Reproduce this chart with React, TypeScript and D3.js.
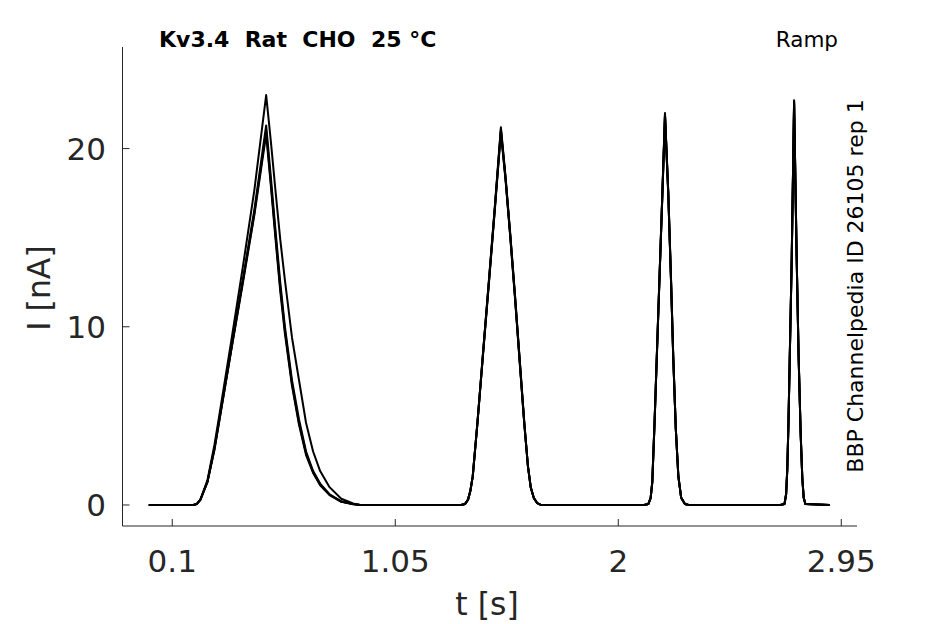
import React from "react";
import * as d3 from "d3";

// ---- data ----
const xTicks = [0.1, 1.05, 2, 2.95];
const xTickLabels = ["0.1", "1.05", "2", "2.95"];
const yTicks = [0, 10, 20];
const yTickLabels = ["0", "10", "20"];
const xLimits = [-0.112, 3.017];
const yLimits = [-1.18, 25.7];

const title = "Kv3.4  Rat  CHO  25 °C";
const protocolLabel = "Ramp";
const sideLabel = "BBP Channelpedia ID 26105 rep 1";
const xLabel = "t [s]";
const yLabel = "I [nA]";

// time points (s) shared by all sweeps
const timePoints = [
  0, 0.19, 0.204, 0.22, 0.235, 0.25, 0.28, 0.3, 0.35, 0.4, 0.45, 0.5, 0.52, 0.54, 0.56, 0.58, 0.61, 0.64, 0.67, 0.7, 0.73, 0.77, 0.82, 0.87, 0.9,
  1.33, 1.347, 1.36, 1.37, 1.38, 1.4, 1.425, 1.45, 1.475, 1.5, 1.52, 1.54, 1.56, 1.58, 1.6, 1.615, 1.627, 1.64, 1.655, 1.67,
  2.11, 2.128, 2.138, 2.145, 2.155, 2.171, 2.188, 2.199, 2.213, 2.225, 2.234, 2.245, 2.256, 2.268, 2.284, 2.3,
  2.69, 2.708, 2.715, 2.72, 2.725, 2.739, 2.749, 2.76, 2.768, 2.777, 2.784, 2.79, 2.797, 2.9,
];

// current (nA) per sweep
const sweep1 = [
  0, 0, 0.05, 0.3, 0.8, 1.3, 3.2, 4.8, 8.7, 12.6, 16.6, 21.3, 18.4, 15.4, 12.5, 10.0, 7.0, 4.8, 3.0, 1.9, 1.2, 0.6, 0.2, 0.05, 0,
  0, 0.05, 0.3, 0.8, 1.6, 4.6, 8.7, 12.7, 16.8, 21.1, 18.3, 15.1, 11.7, 8.1, 4.5, 2.2, 1.0, 0.4, 0.1, 0,
  0, 0.05, 0.4, 1.3, 4.8, 11.0, 17.5, 21.9, 17.5, 12.5, 8.4, 4.3, 1.6, 0.4, 0.05, 0,
  0, 0.05, 0.6, 2.0, 4.6, 13.9, 22.7, 13.9, 8.5, 4.0, 1.5, 0.4, 0.05, 0,
];
const sweep2 = [
  0, 0, 0.05, 0.3, 0.85, 1.4, 3.4, 5.0, 9.1, 13.3, 17.7, 23.0, 20.4, 17.6, 14.9, 12.6, 9.4, 7.0, 4.6, 3.0, 1.9, 1.0, 0.35, 0.08, 0,
  0, 0.05, 0.3, 0.8, 1.6, 4.6, 8.6, 12.6, 16.7, 20.9, 18.2, 15.0, 11.6, 8.0, 4.5, 2.2, 1.0, 0.4, 0.1, 0,
  0, 0.05, 0.4, 1.3, 4.7, 10.9, 17.4, 21.8, 17.4, 12.4, 8.3, 4.3, 1.6, 0.4, 0.05, 0,
  0, 0.05, 0.6, 2.0, 4.5, 13.8, 22.5, 13.8, 8.4, 4.0, 1.5, 0.4, 0.05, 0,
];
const sweep3 = [
  0, 0, 0.05, 0.3, 0.8, 1.3, 3.1, 4.7, 8.6, 12.4, 16.3, 20.8, 17.9, 14.9, 12.0, 9.6, 6.7, 4.5, 2.8, 1.8, 1.1, 0.55, 0.18, 0.04, 0,
  0, 0.05, 0.3, 0.8, 1.6, 4.6, 8.7, 12.8, 16.9, 21.2, 18.4, 15.2, 11.8, 8.2, 4.6, 2.2, 1.0, 0.4, 0.1, 0,
  0, 0.05, 0.4, 1.3, 4.8, 11.0, 17.6, 22.0, 17.6, 12.6, 8.4, 4.3, 1.6, 0.4, 0.05, 0,
  0, 0.05, 0.6, 2.0, 4.6, 13.9, 22.6, 13.9, 8.5, 4.0, 1.5, 0.4, 0.05, 0,
];
const sweep4 = [
  0, 0, 0.05, 0.3, 0.8, 1.3, 3.2, 4.7, 8.6, 12.5, 16.4, 21.0, 18.1, 15.1, 12.2, 9.8, 6.8, 4.6, 2.9, 1.85, 1.15, 0.58, 0.19, 0.05, 0,
  0, 0.05, 0.3, 0.8, 1.6, 4.6, 8.7, 12.7, 16.8, 21.0, 18.3, 15.1, 11.7, 8.1, 4.5, 2.2, 1.0, 0.4, 0.1, 0,
  0, 0.05, 0.4, 1.3, 4.8, 11.0, 17.5, 21.9, 17.5, 12.5, 8.4, 4.3, 1.6, 0.4, 0.05, 0,
  0, 0.05, 0.6, 2.0, 4.6, 13.9, 22.7, 13.9, 8.5, 4.0, 1.5, 0.4, 0.05, 0,
];
const sweeps = [sweep1, sweep2, sweep3, sweep4];

const W = 945;
const H = 624;
const axisColor = "#262626";
const font = "'DejaVu Sans', sans-serif";

export default function App() {
  const x = d3.scaleLinear().domain(xLimits).range([122.5, 857]);
  const y = d3.scaleLinear().domain(yLimits).range([526, 47]);
  const line = d3
    .line<number>()
    .x((_, i) => x(timePoints[i]))
    .y((d) => y(d));
  const [x0, x1] = x.range();
  const [yb, yt] = y.range();
  const tickLen = 7;

  return (
    <svg
      width={W}
      height={H}
      style={{ position: "absolute", left: 0, top: 0, background: "#fff" }}
      fontFamily={font}
    >
      <rect width={W} height={H} fill="#fff" />
      {/* traces */}
      {sweeps.map((s, i) => (
        <path key={i} d={line(s) || ""} fill="none" stroke="#000" strokeWidth={2} strokeLinejoin="round" />
      ))}
      {/* axes */}
      <line x1={x0} x2={x1} y1={yb} y2={yb} stroke={axisColor} strokeWidth={1} />
      <line x1={x0} x2={x0} y1={yb} y2={yt} stroke={axisColor} strokeWidth={1} />
      {xTicks.map((t, i) => (
        <g key={"xt" + i}>
          <line x1={x(t)} x2={x(t)} y1={yb} y2={yb - tickLen} stroke={axisColor} />
          <text x={x(t)} y={572} textAnchor="middle" fontSize={31} fill={axisColor}>
            {xTickLabels[i]}
          </text>
        </g>
      ))}
      {yTicks.map((v, i) => (
        <g key={"yt" + i}>
          <line x1={x0} x2={x0 + tickLen} y1={y(v)} y2={y(v)} stroke={axisColor} />
          <text x={106} y={y(v)} dy="0.36em" textAnchor="end" fontSize={31} fill={axisColor}>
            {yTickLabels[i]}
          </text>
        </g>
      ))}
      <text x={487} y={615} textAnchor="middle" fontSize={31.5} fill={axisColor}>
        {xLabel}
      </text>
      <text
        transform={`translate(50, 288) rotate(-90)`}
        textAnchor="middle"
        fontSize={31.5}
        fill={axisColor}
      >
        {yLabel}
      </text>
      <text x={159} y={47} fontSize={22} fontWeight="bold" fill="#000" style={{ whiteSpace: "pre" }}>
        {title}
      </text>
      <text x={838} y={47} textAnchor="end" fontSize={21.5} fill="#000">
        {protocolLabel}
      </text>
      <text
        transform={`translate(863, 286) rotate(-90)`}
        textAnchor="middle"
        fontSize={22}
        fill="#000"
      >
        {sideLabel}
      </text>
    </svg>
  );
}
